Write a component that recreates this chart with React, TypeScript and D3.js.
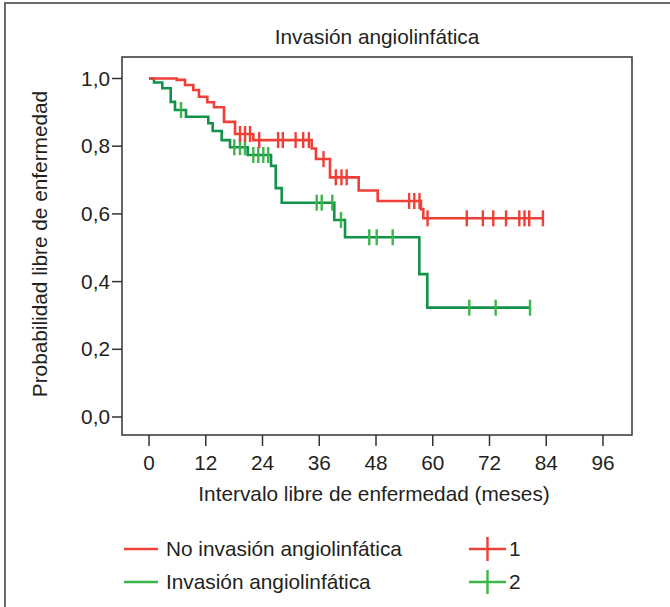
import React, { useEffect, useRef } from "react";
import * as d3 from "d3";

// Kaplan-Meier estimates
const xTicks = [0, 12, 24, 36, 48, 60, 72, 84, 96];
const yTicks = [0, 0.2, 0.4, 0.6, 0.8, 1.0];

// No invasión angiolinfática (group 1)
const noInvTimes = [0, 5.86, 7.61, 9.37, 10.57, 12.33, 13.74, 15.86, 18.19, 22.06, 34.4, 35.3, 38.27, 44.34, 48.36, 57.5, 58.0];
const noInvSurv = [1.0, 0.996, 0.981, 0.966, 0.946, 0.93, 0.915, 0.872, 0.836, 0.818, 0.793, 0.762, 0.708, 0.669, 0.638, 0.614, 0.587];
const noInvEnd = 83.3;
const noInvCensored = [19.24, 20.3, 21.36, 23.3, 27.3, 28.3, 31.0, 32.6, 33.8, 36.9, 39.5, 40.7, 41.8, 55.0, 56.1, 57.2, 58.9, 67.2, 70.6, 72.8, 75.5, 78.3, 79.4, 80.4, 83.3];

// Invasión angiolinfática (group 2)
const invTimes = [0, 1.06, 2.81, 4.59, 5.5, 7.82, 12.54, 13.47, 15.37, 17.13, 20.87, 25.8, 26.8, 28.06, 39.18, 41.45, 57.16, 58.85];
const invSurv = [1.0, 0.988, 0.971, 0.931, 0.907, 0.887, 0.868, 0.845, 0.818, 0.797, 0.774, 0.742, 0.676, 0.633, 0.582, 0.531, 0.422, 0.323];
const invEnd = 80.57;
const invCensored = [6.77, 18.04, 19.24, 20.3, 22.06, 23.1, 24.17, 25.2, 35.46, 36.52, 38.76, 40.6, 46.58, 48.15, 51.53, 67.73, 73.3, 80.57];

const legendNames = ["No invasión angiolinfática", "Invasión angiolinfática"];
const legendCodes = ["1", "2"];

const FONT = "'Liberation Sans', Arial, Helvetica, sans-serif";
const FS = 20.8;

export default function App() {
  const ref = useRef<SVGSVGElement>(null);

  useEffect(() => {
    const svg = d3.select(ref.current);
    svg.selectAll("*").remove();

    const width = 670;
    const height = 607;
    const box = { left: 122, right: 632, top: 57, bottom: 435 };

    const x = d3.scaleLinear().domain([0, 96]).range([149, 603]);
    const y = d3.scaleLinear().domain([0, 1]).range([417, 78.5]);

    // outer frame (only top/left visible in the crop)
    svg
      .append("rect")
      .attr("x", 5)
      .attr("y", 3)
      .attr("width", width + 20)
      .attr("height", height + 20)
      .attr("fill", "none")
      .attr("stroke", "#6b6b6b")
      .attr("stroke-width", 2);

    svg
      .append("text")
      .attr("x", (box.left + box.right) / 2)
      .attr("y", 44)
      .attr("text-anchor", "middle")
      .attr("font-family", FONT)
      .attr("font-size", FS)
      .attr("fill", "#231f20")
      .text("Invasión angiolinfática");

    // plot box
    svg
      .append("rect")
      .attr("x", box.left)
      .attr("y", box.top)
      .attr("width", box.right - box.left)
      .attr("height", box.bottom - box.top)
      .attr("fill", "none")
      .attr("stroke", "#333")
      .attr("stroke-width", 1.5);

    // x axis
    const xg = svg.append("g").attr("transform", `translate(0,${box.bottom})`);
    xTicks.forEach((t) => {
      xg.append("line")
        .attr("x1", x(t))
        .attr("x2", x(t))
        .attr("y1", 0)
        .attr("y2", 11)
        .attr("stroke", "#333")
        .attr("stroke-width", 1.5);
      xg.append("text")
        .attr("x", x(t))
        .attr("y", 35)
        .attr("text-anchor", "middle")
        .attr("font-family", FONT)
        .attr("font-size", FS)
        .attr("fill", "#231f20")
        .text(t);
    });
    svg
      .append("text")
      .attr("x", (box.left + box.right) / 2 - 3)
      .attr("y", 501)
      .attr("text-anchor", "middle")
      .attr("font-family", FONT)
      .attr("font-size", FS)
      .attr("fill", "#231f20")
      .text("Intervalo libre de enfermedad (meses)");

    // y axis
    const fmt = (v: number) => v.toFixed(1).replace(".", ",");
    yTicks.forEach((t) => {
      svg
        .append("line")
        .attr("x1", box.left - 10)
        .attr("x2", box.left)
        .attr("y1", y(t))
        .attr("y2", y(t))
        .attr("stroke", "#333")
        .attr("stroke-width", 1.5);
      svg
        .append("text")
        .attr("x", box.left - 12)
        .attr("y", y(t) + 7)
        .attr("text-anchor", "end")
        .attr("font-family", FONT)
        .attr("font-size", FS)
        .attr("fill", "#231f20")
        .text(fmt(t));
    });
    svg
      .append("text")
      .attr("transform", "translate(47,244) rotate(-90)")
      .attr("text-anchor", "middle")
      .attr("font-family", FONT)
      .attr("font-size", FS)
      .attr("fill", "#231f20")
      .text("Probabilidad libre de enfermedad");

    const line = d3
      .line<[number, number]>()
      .x((d) => x(d[0]))
      .y((d) => y(d[1]))
      .curve(d3.curveStepAfter);

    function drawGroup(
      times: number[],
      surv: number[],
      end: number,
      censored: number[],
      lineColor: string,
      tickColor: string
    ) {
      const pts: [number, number][] = times.map((t, i) => [t, surv[i]]);
      pts.push([end, surv[surv.length - 1]]);
      svg
        .append("path")
        .attr("d", line(pts))
        .attr("fill", "none")
        .attr("stroke", lineColor)
        .attr("stroke-width", 2.6);

      const survAt = (t: number) => {
        let s = surv[0];
        times.forEach((tt, i) => {
          if (tt <= t) s = surv[i];
        });
        return s;
      };
      svg
        .append("g")
        .selectAll("line")
        .data(censored)
        .enter()
        .append("line")
        .attr("x1", (d) => x(d))
        .attr("x2", (d) => x(d))
        .attr("y1", (d) => y(survAt(d)) - 8)
        .attr("y2", (d) => y(survAt(d)) + 8)
        .attr("stroke", tickColor)
        .attr("stroke-width", 2.4);
    }

    drawGroup(invTimes, invSurv, invEnd, invCensored, "#13924a", "#3cb54a");
    drawGroup(noInvTimes, noInvSurv, noInvEnd, noInvCensored, "#ee4037", "#ee4037");

    // legend
    const legLine = ["#ee4037", "#3cb54a"];
    const rows = [549, 582];
    rows.forEach((ry, i) => {
      svg
        .append("line")
        .attr("x1", 124)
        .attr("x2", 158)
        .attr("y1", ry)
        .attr("y2", ry)
        .attr("stroke", legLine[i])
        .attr("stroke-width", 2.4);
      svg
        .append("text")
        .attr("x", 166)
        .attr("y", ry + 7)
        .attr("font-family", FONT)
        .attr("font-size", FS)
        .attr("fill", "#231f20")
        .text(legendNames[i]);
      svg
        .append("line")
        .attr("x1", 469)
        .attr("x2", 506)
        .attr("y1", ry)
        .attr("y2", ry)
        .attr("stroke", legLine[i])
        .attr("stroke-width", 2.4);
      svg
        .append("line")
        .attr("x1", 487.5)
        .attr("x2", 487.5)
        .attr("y1", ry - 12)
        .attr("y2", ry + 12)
        .attr("stroke", legLine[i])
        .attr("stroke-width", 2.4);
      svg
        .append("text")
        .attr("x", 509)
        .attr("y", ry + 7)
        .attr("font-family", FONT)
        .attr("font-size", FS)
        .attr("fill", "#231f20")
        .text(legendCodes[i]);
    });
  }, []);

  return (
    <svg
      ref={ref}
      width={670}
      height={607}
      style={{ position: "absolute", left: 0, top: 0, background: "#fff" }}
    />
  );
}
